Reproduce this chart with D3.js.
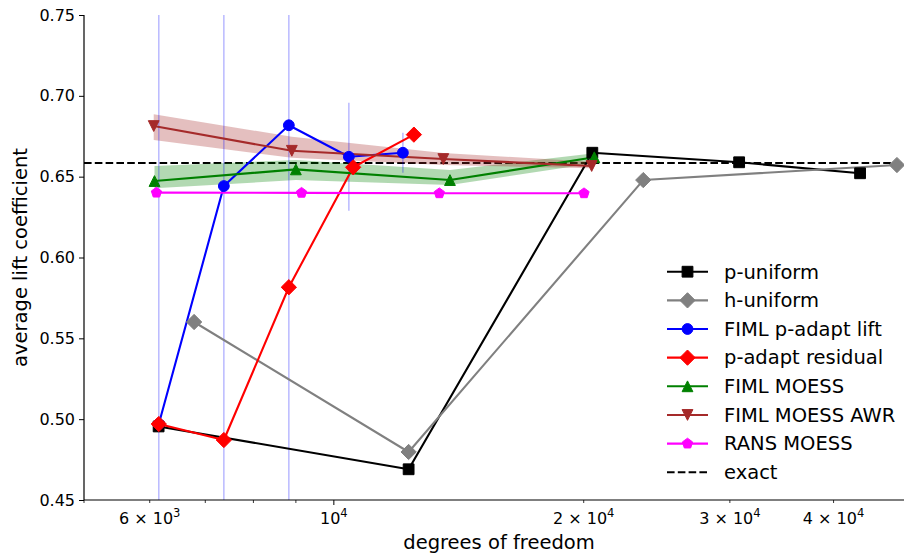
<!DOCTYPE html>
<html>
<head>
<meta charset="utf-8">
<script src="https://cdn.jsdelivr.net/npm/d3@7"></script>
<style>
  body { margin: 0; background: #fff; }
  text { font-family: "DejaVu Sans", sans-serif; fill: #000; }
</style>
</head>
<body>
<svg id="chart" width="904" height="554"></svg>
<script>
// ---- data ----
const exactLift = 0.6585;

const pUniformDof  = [6150, 12305, 20484, 30782, 43053];
const pUniformLift = [0.4955, 0.469, 0.6648, 0.6589, 0.6521];

const hUniformDof  = [6786, 12305, 23593, 47690];
const hUniformLift = [0.5601, 0.4797, 0.6479, 0.6572];

const pAdaptLiftDof  = [6153, 7370, 8826, 10425, 12111];
const pAdaptLiftLift = [0.497, 0.6442, 0.6818, 0.6623, 0.6648];
const pAdaptLiftErr  = [0.3, 0.3, 0.3, 0.0334, 0.0124];

const pAdaptResDof  = [6153, 7370, 8826, 10550, 12486];
const pAdaptResLift = [0.497, 0.4871, 0.5816, 0.6558, 0.676];

const moessDof   = [6080, 9000, 13800, 20597];
const moessLift  = [0.6473, 0.6545, 0.6479, 0.662];
const moessLow   = [0.6428, 0.6479, 0.6448, 0.6583];
const moessHigh  = [0.6566, 0.6603, 0.6541, 0.6645];

const awrDof   = [6067, 8900, 13548, 20446];
const awrLift  = [0.6813, 0.666, 0.6609, 0.6566];
const awrLow   = [0.6727, 0.6617, 0.6572, 0.6552];
const awrHigh  = [0.6886, 0.6747, 0.6646, 0.6593];

const ransDof  = [6113, 9143, 13399, 20017];
const ransLift = [0.6401, 0.640, 0.6397, 0.6397];

const yTicks = [0.45, 0.50, 0.55, 0.60, 0.65, 0.70, 0.75];
const xMinorTicks = [5000, 7000, 8000, 9000];
const xLabelTicks = [6000, 10000, 20000, 30000, 40000];
const xLabelMantissa = ["6", "", "2", "3", "4"];
const xLabelExponent = ["3", "4", "4", "4", "4"];

const seriesNames = ["p-uniform", "h-uniform", "FIML p-adapt lift", "p-adapt residual",
                     "FIML MOESS", "FIML MOESS AWR", "RANS MOESS", "exact"];

// ---- layout ----
const svg = d3.select("#chart");
const plotLeft = 84, plotRight = 914, plotTop = 15, plotBottom = 500;

const x = d3.scaleLog().domain([5000, 50000]).range([plotLeft, plotRight]);
const y = d3.scaleLinear().domain([0.45, 0.75]).range([plotBottom, plotTop]);

svg.append("defs").append("clipPath").attr("id", "plotClip")
  .append("rect").attr("x", plotLeft).attr("y", plotTop)
  .attr("width", plotRight - plotLeft).attr("height", plotBottom - plotTop);

const M = 10.8; // marker size in px

function markerPath(kind) {
  const h = M / 2;
  switch (kind) {
    case "square":
      return `M${-h},${-h}H${h}V${h}H${-h}Z`;
    case "diamond": {
      const d = h * Math.SQRT2;
      return `M0,${-d}L${d},0L0,${d}L${-d},0Z`;
    }
    case "circle":
      return `M${h},0A${h},${h} 0 1,1 ${-h},0A${h},${h} 0 1,1 ${h},0Z`;
    case "triUp":
      return `M0,${-h}L${h},${h}L${-h},${h}Z`;
    case "triDown":
      return `M0,${h}L${h},${-h}L${-h},${-h}Z`;
    case "pentagon": {
      const pts = d3.range(5).map(i => {
        const a = -Math.PI / 2 + i * 2 * Math.PI / 5;
        return [h * Math.cos(a), h * Math.sin(a)];
      });
      return "M" + pts.map(p => p.join(",")).join("L") + "Z";
    }
  }
}

const plot = svg.append("g");
const clipped = plot.append("g").attr("clip-path", "url(#plotClip)");

// reference value
clipped.append("line")
  .attr("x1", plotLeft).attr("x2", plotRight)
  .attr("y1", y(exactLift)).attr("y2", y(exactLift))
  .attr("stroke", "#000").attr("stroke-width", 2.1)
  .attr("stroke-dasharray", "7.6,3.2");

// uncertainty bands
function band(dof, low, high, color) {
  const area = d3.area()
    .x((d, i) => x(dof[i]))
    .y0((d, i) => y(low[i]))
    .y1((d, i) => y(high[i]));
  clipped.append("path").attr("d", area(dof))
    .attr("fill", color).attr("fill-opacity", 0.3).attr("stroke", "none");
}
band(moessDof, moessLow, moessHigh, "green");
band(awrDof, awrLow, awrHigh, "brown");

// error bars of the lift-adaptive runs
clipped.selectAll("line.err").data(pAdaptLiftDof).enter().append("line")
  .attr("class", "err")
  .attr("x1", d => x(d)).attr("x2", d => x(d))
  .attr("y1", (d, i) => y(pAdaptLiftLift[i] - pAdaptLiftErr[i]))
  .attr("y2", (d, i) => y(pAdaptLiftLift[i] + pAdaptLiftErr[i]))
  .attr("stroke", "blue").attr("stroke-opacity", 0.28).attr("stroke-width", 1.5);

function series(dof, lift, color, kind) {
  const line = d3.line().x((d, i) => x(dof[i])).y((d, i) => y(lift[i]));
  clipped.append("path").attr("d", line(dof))
    .attr("fill", "none").attr("stroke", color).attr("stroke-width", 2.1)
    .attr("stroke-linejoin", "round");
  plot.selectAll(null).data(dof).enter().append("path")
    .attr("d", markerPath(kind))
    .attr("transform", (d, i) => `translate(${x(d)},${y(lift[i])})`)
    .attr("fill", color).attr("stroke", color).attr("stroke-width", 1);
}

series(pUniformDof, pUniformLift, "#000000", "square");
series(hUniformDof, hUniformLift, "#808080", "diamond");
series(pAdaptLiftDof, pAdaptLiftLift, "#0000ff", "circle");
series(pAdaptResDof, pAdaptResLift, "#ff0000", "diamond");
series(moessDof, moessLift, "#008000", "triUp");
series(awrDof, awrLift, "#a52a2a", "triDown");
series(ransDof, ransLift, "#ff00ff", "pentagon");

// ---- axes ----
const yAxis = d3.axisLeft(y).tickValues(yTicks).tickFormat(d3.format(".2f"))
  .tickSize(5).tickPadding(4);
const gy = svg.append("g").attr("transform", `translate(${plotLeft},0)`).call(yAxis);
gy.select(".domain").attr("d", `M0,${plotTop}V${plotBottom}`).attr("stroke", "#000").attr("stroke-width", 1.2);
gy.selectAll(".tick line").attr("stroke", "#000").attr("stroke-width", 1);
gy.selectAll(".tick text").style("font-size", "16px").attr("fill", "#000");

const gx = svg.append("g").attr("transform", `translate(0,${plotBottom})`);
gx.append("line").attr("x1", plotLeft).attr("x2", plotRight).attr("y1", 0).attr("y2", 0)
  .attr("stroke", "#000").attr("stroke-width", 1.2);
gx.selectAll("line.minor").data(xMinorTicks.concat(xLabelTicks.filter(v => v !== 10000)))
  .enter().append("line").attr("class", "minor")
  .attr("x1", d => x(d)).attr("x2", d => x(d)).attr("y1", 0).attr("y2", 3)
  .attr("stroke", "#000").attr("stroke-width", 0.8);
gx.append("line").attr("x1", x(10000)).attr("x2", x(10000)).attr("y1", 0).attr("y2", 5)
  .attr("stroke", "#000").attr("stroke-width", 1);

const xl = gx.selectAll("text.tl").data(xLabelTicks).enter().append("text")
  .attr("class", "tl")
  .attr("x", d => x(d)).attr("y", 24)
  .attr("text-anchor", "middle").style("font-size", "16px");
xl.each(function (d, i) {
  const t = d3.select(this);
  const base = xLabelMantissa[i] ? `${xLabelMantissa[i]} × 10` : "10";
  t.append("tspan").text(base);
  t.append("tspan").attr("dy", -7).style("font-size", "11.5px").text(xLabelExponent[i]);
});

svg.append("text").attr("x", (plotLeft + plotRight) / 2).attr("y", 549)
  .attr("text-anchor", "middle").style("font-size", "19.5px").text("degrees of freedom");
svg.append("text")
  .attr("transform", `translate(27,${(plotTop + plotBottom) / 2}) rotate(-90)`)
  .attr("text-anchor", "middle").style("font-size", "19.5px").text("average lift coefficient");

// ---- legend ----
const legendColors = ["#000000", "#808080", "#0000ff", "#ff0000", "#008000", "#a52a2a", "#ff00ff", "#000000"];
const legendKinds = ["square", "diamond", "circle", "diamond", "triUp", "triDown", "pentagon", null];
const lg = svg.append("g").attr("transform", "translate(667,271.7)");
seriesNames.forEach((name, i) => {
  const row = lg.append("g").attr("transform", `translate(0,${i * 28.65})`);
  row.append("line").attr("x1", 0).attr("x2", 41).attr("y1", 0).attr("y2", 0)
    .attr("stroke", legendColors[i]).attr("stroke-width", 2.1)
    .attr("stroke-dasharray", legendKinds[i] ? null : "7.6,3.2");
  if (legendKinds[i]) {
    row.append("path").attr("d", markerPath(legendKinds[i]))
      .attr("transform", "translate(20.5,0)")
      .attr("fill", legendColors[i]).attr("stroke", legendColors[i]).attr("stroke-width", 1);
  }
  row.append("text").attr("x", 57).attr("y", 0).attr("dy", "0.35em")
    .style("font-size", "19.5px").text(name);
});
</script>
</body>
</html>
